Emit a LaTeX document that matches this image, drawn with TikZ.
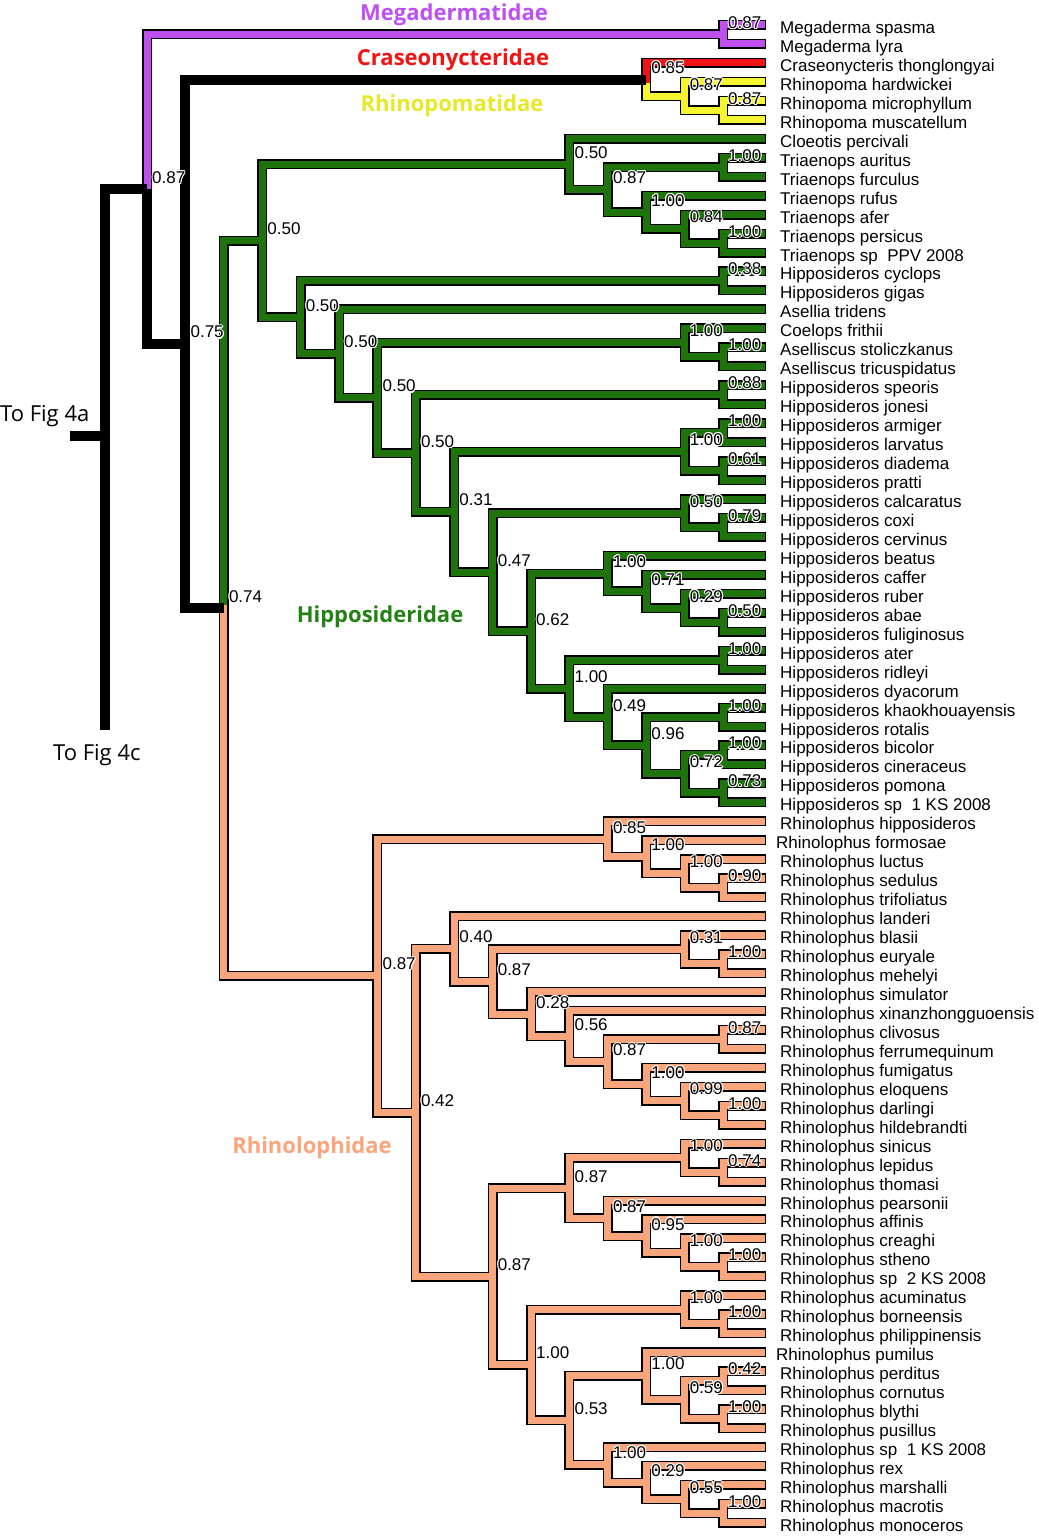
\documentclass[tikz,border=0pt]{standalone}
\usepackage{fontspec}
\setmainfont{Liberation Sans}
\newfontfamily\famfont{Open Sans}
\usetikzlibrary{calc}
\definecolor{pur}{RGB}{190,80,240}
\definecolor{crred}{RGB}{240,20,20}
\definecolor{yel}{RGB}{245,245,50}
\definecolor{yeltxt}{RGB}{232,232,40}
\definecolor{grn}{RGB}{30,115,10}
\definecolor{grntxt}{RGB}{35,130,20}
\definecolor{sal}{RGB}{250,166,125}
\definecolor{saltxt}{RGB}{250,165,125}
\pgfdeclarelayer{fg}
\pgfdeclarelayer{top}
\pgfdeclarelayer{lab}
\pgfsetlayers{main,fg,top,lab}
\newcommand\hc[3]{\makebox[0pt][l]{\hspace*{#1}\raisebox{#2}{\textcolor{white}{#3}}}}
\newcommand\halo[1]{\hc{-1.1pt}{0pt}{#1}\hc{1.1pt}{0pt}{#1}\hc{0pt}{1.1pt}{#1}\hc{0pt}{-1.1pt}{#1}\hc{.8pt}{.8pt}{#1}\hc{-.8pt}{.8pt}{#1}\hc{.8pt}{-.8pt}{#1}\hc{-.8pt}{-.8pt}{#1}#1}
\def\nodelist{M/l1/l2/0/pur/0.87,R1/l5/l6/0/yel/0.87,R2/l4/R1/1/yel/0.87,%
T1/l8/l9/0/grn/1.00,T2/l12/l13/0/grn/1.00,T3/l11/T2/1/grn/0.84,T4/l10/T3/2/grn/1.00,T5/T1/T4/3/grn/0.87,T6/l7/T5/4/grn/0.50,%
H1/l14/l15/0/grn/0.38,A1/l18/l19/0/grn/1.00,A2/l17/A1/1/grn/1.00,S1/l20/l21/0/grn/0.88,%
D1/l22/l23/0/grn/1.00,D2/l24/l25/0/grn/0.61,D3/D1/D2/1/grn/1.00,%
C1/l27/l28/0/grn/0.79,C2/l26/C1/1/grn/0.50,%
B1/l32/l33/0/grn/0.50,B2/l31/B1/1/grn/0.29,B3/l30/B2/2/grn/0.71,B4/l29/B3/3/grn/1.00,%
E1/l34/l35/0/grn/1.00,E2/l37/l38/0/grn/1.00,E3/l39/l40/0/grn/1.00,E4/l41/l42/0/grn/0.73,E5/E3/E4/1/grn/0.72,E6/E2/E5/2/grn/0.96,E7/l36/E6/3/grn/0.49,E8/E1/E7/4/grn/1.00,%
F1/B4/E8/5/grn/0.62,F2/C2/F1/6/grn/0.47,F3/D3/F2/7/grn/0.31,F4/S1/F3/8/grn/0.50,F5/A2/F4/9/grn/0.50,F6/l16/F5/10/grn/0.50,F7/H1/F6/11/grn/0.50,HIP/T6/F7/12/grn/0.50,%
Rh1/l46/l47/0/sal/0.90,Rh2/l45/Rh1/1/sal/1.00,Rh3/l44/Rh2/2/sal/1.00,Rh4/l43/Rh3/3/sal/0.85,%
Rb1/l50/l51/0/sal/1.00,Rb2/l49/Rb1/1/sal/0.31,%
Rf1/l54/l55/0/sal/0.87,Rf2/l58/l59/0/sal/1.00,Rf3/l57/Rf2/1/sal/0.99,Rf4/l56/Rf3/2/sal/1.00,Rf5/Rf1/Rf4/3/sal/0.87,Rf6/l53/Rf5/4/sal/0.56,Rf7/l52/Rf6/5/sal/0.28,Rf8/Rb2/Rf7/6/sal/0.87,Rf9/l48/Rf8/7/sal/0.40,%
Ra1/l61/l62/0/sal/0.74,Ra/l60/Ra1/1/sal/1.00,%
Q1/l66/l67/0/sal/1.00,Q2/l65/Q1/1/sal/1.00,Q3/l64/Q2/2/sal/0.95,Q4/l63/Q3/3/sal/0.87,Z1/Ra/Q4/4/sal/0.87,%
Rc1/l69/l70/0/sal/1.00,Rc/l68/Rc1/1/sal/1.00,%
P1/l72/l73/0/sal/0.42,P2/l74/l75/0/sal/1.00,P3/P1/P2/1/sal/0.59,Rd/l71/P3/2/sal/1.00,%
W1/l79/l80/0/sal/1.00,W2/l78/W1/1/sal/0.55,W3/l77/W2/2/sal/0.29,Re/l76/W3/3/sal/1.00,%
Rde/Rd/Re/4/sal/0.53,Z2/Rc/Rde/5/sal/1.00,YY/Z1/Z2/6/sal/0.87,XX/Rf9/YY/8/sal/0.42,RH/Rh4/XX/9/sal/0.87}
\def\speclist{CR/l3/R2/2/black/0.85,N74/HIP/RH/13/black/0.74,N75/CR/N74/14/black/0.75,N87/M/N75/15/black/0.87}
\begin{document}
\begin{tikzpicture}[x=1pt,y=-1pt,
  outl/.style={draw=black,line width=10pt,line cap=rect,line join=miter},
  fil/.style={line width=7pt,line cap=rect,line join=miter},
  rootl/.style={draw=black,line width=10pt,line join=miter},
  leaf/.style={anchor=base west,inner sep=0pt,font=\fontsize{17}{19}\selectfont},
  bsl/.style={anchor=base west,inner sep=0pt,font=\fontsize{17}{19}\selectfont},
  fam/.style={anchor=base,inner sep=0pt,font=\famfont\bfseries\fontsize{22}{24}\selectfont},
  fig/.style={anchor=base west,inner sep=0pt,font=\famfont\fontsize{22}{24}\selectfont}]
\useasboundingbox (0,0) rectangle (1038,1538);
\fill[white] (0,0) rectangle (1038,1538);
% coordinates
\foreach \i in {1,...,80} \coordinate (l\i) at (761,{25+18.96*(\i-1)});
\foreach \k in {0,...,15} \coordinate (X\k) at ({723-38.4*\k},0);
\foreach \n/\a/\b/\k/\c/\v in \nodelist {
  \path ($(\a)!0.5!(\b)$) coordinate (m\n);
  \coordinate (\n) at (m\n -| X\k);
}
\foreach \n/\a/\b/\k/\c/\v in \speclist {
  \path ($(\a)!0.5!(\b)$) coordinate (m\n);
  \coordinate (\n) at (m\n -| X\k);
}
\coordinate (rbot) at (105,730);
\coordinate (stub) at (70,436);
% coloured brackets
\foreach \n/\a/\b/\k/\c/\v in \nodelist {
  \draw[outl] (\a) -| (\n) |- (\b);
  \begin{pgfonlayer}{fg}\draw[fil,draw=\c] (\a) -| (\n) |- (\b);\end{pgfonlayer}
}
\draw[outl] (l3) -| (CR) |- (R2);
\draw[outl] (M) -| (N87);
\draw[outl] (HIP) -| (N74) |- (RH);
\begin{pgfonlayer}{fg}
\draw[fil,draw=yel] (CR) |- (R2);
\draw[fil,draw=crred] (l3) -| (CR);
\draw[fil,draw=pur] (M) -| (N87);
\draw[fil,draw=grn] (HIP) -| (N74);
\draw[fil,draw=sal] (N74) |- (RH);
\end{pgfonlayer}
% black root
\begin{pgfonlayer}{top}
\draw[rootl] (rbot) |- (N87);
\draw[rootl] (N87) |- (N75);
\draw[rootl] (CR) -| (N75) |- (N74);
\draw[rootl] (stub) -- (stub -| rbot);
\end{pgfonlayer}
% labels
\begin{pgfonlayer}{lab}
\foreach \n/\a/\b/\k/\c/\v in \nodelist {
  \node[bsl] (b\n) at ([xshift=5pt,yshift=6pt]\n) {\halo{\v}};
}
\foreach \n/\a/\b/\k/\c/\v in \speclist {
  \node[bsl] (b\n) at ([xshift=5pt,yshift=6pt]\n) {\halo{\v}};
}
\foreach \i/\d/\nm in {1/19/Megaderma spasma,2/19/Megaderma lyra,3/19/Craseonycteris thonglongyai,4/19/Rhinopoma hardwickei,5/19/Rhinopoma microphyllum,6/19/Rhinopoma muscatellum,7/19/Cloeotis percivali,8/19/Triaenops auritus,9/19/Triaenops furculus,10/19/Triaenops rufus,11/19/Triaenops afer,12/19/Triaenops persicus,13/19/Triaenops sp~~PPV 2008,14/19/Hipposideros cyclops,15/19/Hipposideros gigas,16/19/Asellia tridens,17/19/Coelops frithii,18/19/Aselliscus stoliczkanus,19/19/Aselliscus tricuspidatus,20/19/Hipposideros speoris,21/19/Hipposideros jonesi,22/19/Hipposideros armiger,23/19/Hipposideros larvatus,24/19/Hipposideros diadema,25/19/Hipposideros pratti,26/19/Hipposideros calcaratus,27/19/Hipposideros coxi,28/19/Hipposideros cervinus,29/19/Hipposideros beatus,30/19/Hipposideros caffer,31/19/Hipposideros ruber,32/19/Hipposideros abae,33/19/Hipposideros fuliginosus,34/19/Hipposideros ater,35/19/Hipposideros ridleyi,36/19/Hipposideros dyacorum,37/19/Hipposideros khaokhouayensis,38/19/Hipposideros rotalis,39/19/Hipposideros bicolor,40/19/Hipposideros cineraceus,41/19/Hipposideros pomona,42/19/Hipposideros sp~~1 KS 2008,43/19/Rhinolophus hipposideros,44/15/Rhinolophus formosae,45/19/Rhinolophus luctus,46/19/Rhinolophus sedulus,47/19/Rhinolophus trifoliatus,48/19/Rhinolophus landeri,49/19/Rhinolophus blasii,50/19/Rhinolophus euryale,51/19/Rhinolophus mehelyi,52/19/Rhinolophus simulator,53/19/Rhinolophus xinanzhongguoensis,54/19/Rhinolophus clivosus,55/19/Rhinolophus ferrumequinum,56/19/Rhinolophus fumigatus,57/19/Rhinolophus eloquens,58/19/Rhinolophus darlingi,59/19/Rhinolophus hildebrandti,60/19/Rhinolophus sinicus,61/19/Rhinolophus lepidus,62/19/Rhinolophus thomasi,63/19/Rhinolophus pearsonii,64/19/Rhinolophus affinis,65/19/Rhinolophus creaghi,66/19/Rhinolophus stheno,67/19/Rhinolophus sp~~2 KS 2008,68/19/Rhinolophus acuminatus,69/19/Rhinolophus borneensis,70/19/Rhinolophus philippinensis,71/15/Rhinolophus pumilus,72/19/Rhinolophus perditus,73/19/Rhinolophus cornutus,74/19/Rhinolophus blythi,75/19/Rhinolophus pusillus,76/19/Rhinolophus sp~~1 KS 2008,77/19/Rhinolophus rex,78/19/Rhinolophus marshalli,79/19/Rhinolophus macrotis,80/19/Rhinolophus monoceros}
  \node[leaf] (t\i) at ([xshift=\d pt,yshift=-8.5pt]l\i) {\nm};
\node[fam,text=pur] (fMeg) at (454,21) {Megadermatidae};
\node[fam,text=crred] (fCra) at (453,66) {Craseonycteridae};
\node[fam,text=yeltxt] (fRhp) at (452,112) {Rhinopomatidae};
\node[fam,text=grntxt] (fHip) at (380,622) {Hipposideridae};
\node[fam,text=saltxt] (fRhl) at (312,1153) {Rhinolophidae};
\node[fig] (fig4a) at (0,421) {To Fig 4a};
\node[fig] (fig4c) at (53,760) {To Fig 4c};
\end{pgfonlayer}
\end{tikzpicture}
\end{document}
